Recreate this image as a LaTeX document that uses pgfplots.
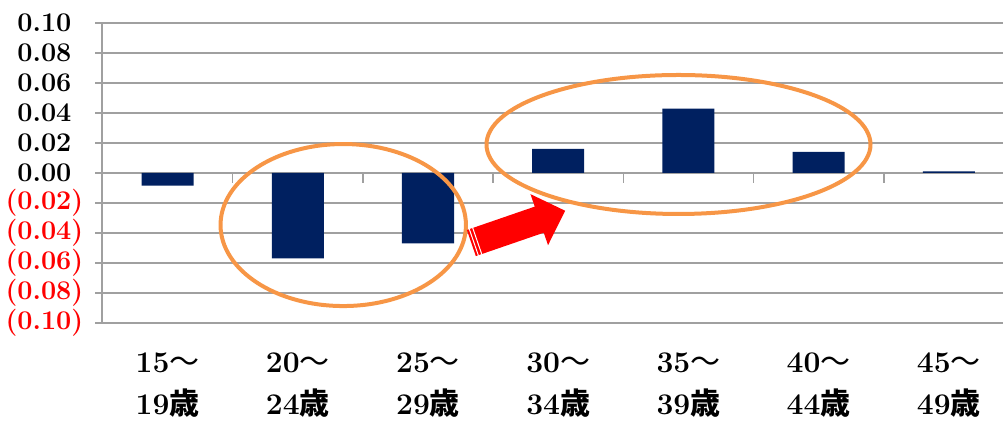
\documentclass[border=0pt]{standalone}
\usepackage{pgfplots}
\pgfplotsset{compat=1.18}
\usepackage{fontspec}
\newfontfamily\cjk{Noto Sans CJK JP}
\definecolor{navy}{HTML}{002060}
\definecolor{orng}{HTML}{F79646}
\definecolor{gridgray}{HTML}{A0A0A0}
\newcommand\J[1]{{\cjk #1}}
\newcommand\T{{\cjk\mdseries ～}}
\newcommand\NN[1]{\textcolor{red}{(#1\rlap{)}}}
\begin{document}
\begin{tikzpicture}
\begin{axis}[
  at={(51.25pt,49pt)}, anchor=south west,
  scale only axis, width=450.25pt, height=150pt,
  xmin=-0.5, xmax=6.4163, ymin=-0.1, ymax=0.1,
  axis lines*=left,
  x axis line style={draw=none},
  y axis line style={draw=gridgray, line width=1pt},
  ymajorgrids, grid style={draw=gridgray, line width=0.8pt},
  ytick={-0.10,-0.08,-0.06,-0.04,-0.02,0,0.02,0.04,0.06,0.08,0.10},
  yticklabels={\NN{0.10},\NN{0.08},\NN{0.06},\NN{0.04},\NN{0.02},0.00,0.02,0.04,0.06,0.08,0.10},
  xtick={0,1,2,3,4,5,6},
  xticklabels={{15\T\\19\J{歳}},{20\T\\24\J{歳}},{25\T\\29\J{歳}},{30\T\\34\J{歳}},{35\T\\39\J{歳}},{40\T\\44\J{歳}},{45\T\\49\J{歳}}},
  xtick style={draw=none},
  ytick style={draw=gridgray, line width=0.8pt},
  tick align=outside, major tick length=3.5pt,
  yticklabel style={font=\fontsize{13.5}{15}\selectfont\bfseries, anchor=east, xshift=-8.5pt},
  xticklabel style={font=\fontsize{15}{21}\selectfont\bfseries, align=center, anchor=north, yshift=-8pt},
  clip=false,
]
\addplot[ybar, bar width=0.4, bar shift=0pt, fill=navy, draw=none] coordinates {
  (0,-0.0085) (1,-0.057) (2,-0.047) (3,0.016) (4,0.0429) (5,0.014) (6,0.001)
};
\pgfplotsinvokeforeach{0.5,1.5,2.5,3.5,4.5,5.5}{
  \draw[gridgray, line width=0.8pt] (axis cs:#1,0) -- ++(0pt,-5pt);
}
\draw[orng, line width=2pt] (axis cs:1.349,-0.0347) ellipse [x radius=61.35pt, y radius=40.5pt];
\draw[orng, line width=2pt] (axis cs:3.924,0.019) ellipse [x radius=96pt, y radius=34.75pt];
\coordinate (arr) at (axis cs:2.333,-0.0467);
\end{axis}
\begin{scope}[shift={(arr)}, rotate=19]
\fill[red] (0,-6.9pt) -- (35.9pt,-6.9pt) -- (35.9pt,-13.5pt) -- (49.6pt,0pt) -- (35.9pt,13.5pt) -- (35.9pt,6.9pt) -- (0pt,6.9pt) -- cycle;
\draw[white, line width=0.5pt] (1.3pt,-7.2pt) -- (1.3pt,7.2pt);
\draw[white, line width=0.5pt] (3.1pt,-7.2pt) -- (3.1pt,7.2pt);
\end{scope}
\pgfresetboundingbox
\path (0,0) rectangle (501.5pt,210.5pt);
\end{tikzpicture}
\end{document}
